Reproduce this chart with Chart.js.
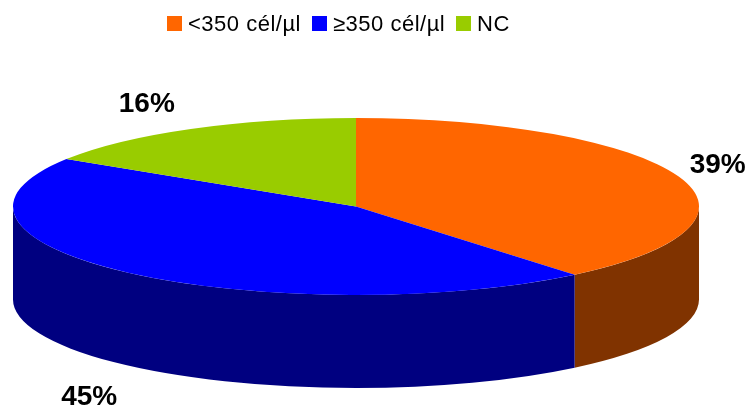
<!DOCTYPE html>
<html>
<head>
<meta charset="utf-8">
<style>
  html, body { margin: 0; padding: 0; background: #fff; overflow: hidden; }
  #wrap { position: relative; width: 749px; height: 405px; }
  #legend { position: absolute; left: 167px; top: 10px; font: 22px "Liberation Sans", Arial, sans-serif; letter-spacing: 0.5px; color: #000; white-space: nowrap; line-height: 27px; }
  #legend span.box { position: absolute; top: 6px; width: 15px; height: 15px; }
  #legend span.txt { position: absolute; top: 0; }
</style>
</head>
<body>
<div id="wrap">
  <canvas id="pieCanvas" width="749" height="405"></canvas>
  <div id="legend"></div>
</div>
<script src="https://cdn.jsdelivr.net/npm/chart.js@4"></script>
<script>
const categories = ['<350 cél/µl', '≥350 cél/µl', 'NC'];
const percents = [39, 45, 16];
const topColors = ['#FF6600', '#0000FF', '#99CC00'];
const sideColors = ['#803300', '#000080', '#4D6600'];

// tilted disc geometry
const cx = 356, cy = 206.5, rx = 343, ry = 88.5, depth = 93;
// label offsets from the rim point at each slice's middle angle
const labelOffsets = [[39, -3.5], [-40, 132], [-44, -17]];
const legendLeft = [0, 145, 289];

// legend is plain html so the spacing can be set by hand
const legend = document.getElementById('legend');
categories.forEach((name, i) => {
  const box = document.createElement('span');
  box.className = 'box';
  box.style.left = legendLeft[i] + 'px';
  box.style.background = topColors[i];
  const txt = document.createElement('span');
  txt.className = 'txt';
  txt.style.left = legendLeft[i] + 21 + 'px';
  txt.textContent = name;
  legend.appendChild(box);
  legend.appendChild(txt);
});

const tiltPlugin = {
  id: 'tilt',
  beforeDatasetsDraw(chart) {
    const ctx = chart.ctx;
    const arcs = chart.getDatasetMeta(0).data;

    // side wall: only the front half of the rim shows
    arcs.forEach((arc, i) => {
      const a = Math.max(arc.startAngle, 0);
      const b = Math.min(arc.endAngle, Math.PI);
      if (b <= a) return;
      ctx.fillStyle = sideColors[i];
      ctx.beginPath();
      ctx.ellipse(cx, cy, rx, ry, 0, a, b);
      ctx.ellipse(cx, cy + depth, rx, ry, 0, b, a, true);
      ctx.closePath();
      ctx.fill();
    });

    // squash the round pie into the top face
    const first = arcs[0];
    ctx.save();
    ctx.translate(cx, cy);
    ctx.scale(rx / first.outerRadius, ry / first.outerRadius);
    ctx.translate(-first.x, -first.y);
  },
  afterDatasetsDraw(chart) {
    const ctx = chart.ctx;
    ctx.restore();

    ctx.save();
    ctx.font = 'bold 28px "Liberation Sans", Arial, sans-serif';
    ctx.fillStyle = '#000';
    ctx.textAlign = 'center';
    ctx.textBaseline = 'alphabetic';
    chart.getDatasetMeta(0).data.forEach((arc, i) => {
      const mid = (arc.startAngle + arc.endAngle) / 2;
      const x = cx + rx * Math.cos(mid) + labelOffsets[i][0];
      const y = cy + ry * Math.sin(mid) + labelOffsets[i][1];
      ctx.fillText(percents[i] + '%', x, y);
    });
    ctx.restore();
  }
};

new Chart(document.getElementById('pieCanvas'), {
  type: 'pie',
  data: {
    labels: categories,
    datasets: [{
      data: percents,
      backgroundColor: topColors,
      borderWidth: 0
    }]
  },
  options: {
    responsive: false,
    animation: false,
    events: [],
    plugins: {
      legend: { display: false },
      tooltip: { enabled: false }
    }
  },
  plugins: [tiltPlugin]
});
</script>
</body>
</html>
